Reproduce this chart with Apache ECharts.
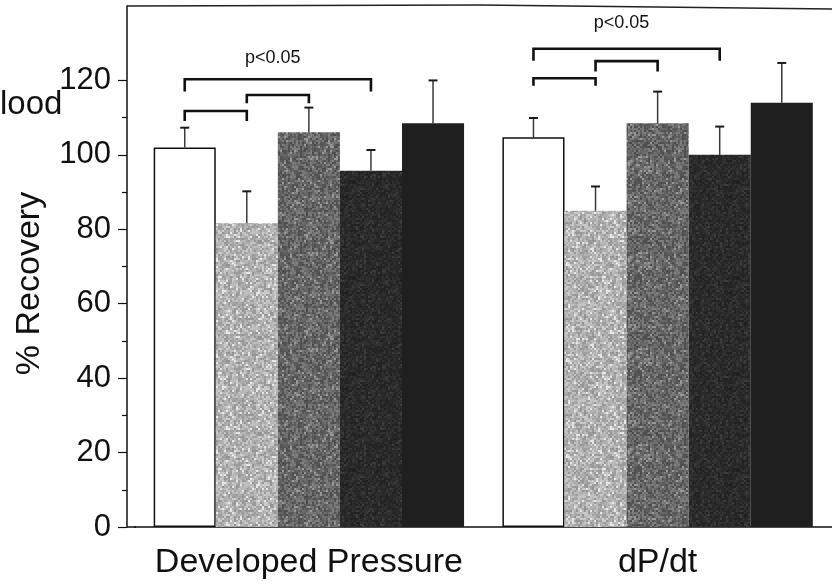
<!DOCTYPE html>
<html>
<head>
<meta charset="utf-8">
<script src="https://cdn.jsdelivr.net/npm/echarts@6/dist/echarts.min.js"></script>
<style>
  html, body { margin: 0; padding: 0; background: #fff; overflow: hidden; }
  #chart { width: 832px; height: 586px; }
</style>
</head>
<body>
<div id="chart"></div>
<script>
// ---- data ----
const categories = ['Developed Pressure', 'dP/dt'];
const seriesNames = ['Group 1', 'Group 2', 'Group 3', 'Group 4', 'Group 5'];
// mean % recovery per group, one value per category
const meanGroup1 = [102.0, 104.7];
const meanGroup2 = [81.6, 85.0];
const meanGroup3 = [106.1, 108.5];
const meanGroup4 = [95.7, 100.0];
const meanGroup5 = [108.5, 114.0];
// top of the error bar (mean + SEM)
const upperGroup1 = [107.3, 109.9];
const upperGroup2 = [90.2, 91.5];
const upperGroup3 = [112.7, 117.0];
const upperGroup4 = [101.3, 107.6];
const upperGroup5 = [120.0, 124.7];
const yTickValues = [0, 20, 40, 60, 80, 100, 120];
const yMinorTickValues = [10, 30, 50, 70, 90, 110];
// significance brackets: [category, fromGroup, toGroup, barValue, legEndValue]
const brackets = [
  [0, 0, 3, 120.3, 117.0],
  [0, 0, 1, 111.8, 109.1],
  [0, 1, 2, 116.1, 113.9],
  [1, 0, 3, 128.5, 125.3],
  [1, 0, 1, 120.6, 118.6],
  [1, 1, 2, 125.2, 122.4]
];
// significance labels: [category, fromGroup, toGroup, value]
const sigLabels = [
  [0, 0, 3, 126.0],
  [1, 0, 3, 135.4]
];
const sigText = 'p<0.05';

const means = [meanGroup1, meanGroup2, meanGroup3, meanGroup4, meanGroup5];
const uppers = [upperGroup1, upperGroup2, upperGroup3, upperGroup4, upperGroup5];

// ---- layout / style ----
const FONT = '"Liberation Sans", Arial, Helvetica, sans-serif';
const GAP = 0.11;           // barCategoryGap ratio
const N = means.length;

// stippled fill, deterministic hash noise, softened
function hash(x, y, s) {
  const v = Math.sin(x * 12.9898 + y * 78.233 + s * 37.719) * 43758.5453;
  return v - Math.floor(v);
}
function speckle(base, amp, seed) {
  const size = 96, cell = 2;
  const raw = document.createElement('canvas');
  raw.width = size; raw.height = size;
  const rctx = raw.getContext('2d');
  for (let y = 0; y < size; y += cell) {
    for (let x = 0; x < size; x += cell) {
      const h = hash(x, y, seed);
      let g = base + (h - 0.5) * 2 * amp;
      if (hash(y, x, seed + 3) > 0.92) g = base + amp * 1.8;
      g = Math.max(0, Math.min(255, Math.round(g)));
      rctx.fillStyle = 'rgb(' + g + ',' + g + ',' + g + ')';
      rctx.fillRect(x, y, cell, cell);
    }
  }
  const cv = document.createElement('canvas');
  cv.width = size; cv.height = size;
  const ctx = cv.getContext('2d');
  ctx.fillStyle = 'rgb(' + base + ',' + base + ',' + base + ')';
  ctx.fillRect(0, 0, size, size);
  ctx.filter = 'blur(0.6px)';
  ctx.drawImage(raw, 0, 0);
  return { image: cv, repeat: 'repeat' };
}

const fills = [
  '#ffffff',
  speckle(176, 30, 1),
  speckle(102, 28, 2),
  speckle(42, 10, 3),
  '#1f1f1f'
];

const barSeries = means.map((vals, i) => ({
  name: seriesNames[i],
  type: 'bar',
  data: vals,
  barGap: '0%',
  barCategoryGap: (GAP * 100) + '%',
  itemStyle: i === 0
    ? { color: fills[i], borderColor: '#111', borderWidth: 1.5 }
    : { color: fills[i] },
  silent: true,
  z: 2
}));

function barCenter(api, c, g) {
  const center = api.coord([c, 0])[0];
  const bw = api.size([1, 0])[0] * (1 - GAP) / N;
  return center + (g - (N - 1) / 2) * bw;
}

const errorData = [];
uppers.forEach((vals, g) => vals.forEach((u, c) => errorData.push([c, g, means[g][c], u])));

const errorSeries = {
  type: 'custom',
  data: errorData,
  z: 3,
  silent: true,
  renderItem(params, api) {
    const c = api.value(0), g = api.value(1);
    const x = barCenter(api, c, g);
    const yMean = api.coord([c, api.value(2)])[1];
    const yUp = api.coord([c, api.value(3)])[1];
    return {
      type: 'group',
      children: [
        { type: 'line', shape: { x1: x, y1: yMean, x2: x, y2: yUp },
          style: { stroke: '#3a3a3a', lineWidth: 1.5 } },
        { type: 'line', shape: { x1: x - 4.5, y1: yUp, x2: x + 4.5, y2: yUp },
          style: { stroke: '#1a1a1a', lineWidth: 2 } }
      ]
    };
  }
};

const bracketSeries = {
  type: 'custom',
  data: brackets,
  z: 4,
  silent: true,
  renderItem(params, api) {
    const c = api.value(0);
    const x1 = barCenter(api, c, api.value(1));
    const x2 = barCenter(api, c, api.value(2));
    const yTop = api.coord([c, api.value(3)])[1];
    const yLeg = api.coord([c, api.value(4)])[1];
    return {
      type: 'polyline',
      shape: { points: [[x1, yLeg], [x1, yTop], [x2, yTop], [x2, yLeg]] },
      style: { stroke: '#111', lineWidth: 2.6, fill: null, lineJoin: 'miter' }
    };
  }
};

const labelSeries = {
  type: 'custom',
  data: sigLabels,
  z: 4,
  silent: true,
  renderItem(params, api) {
    const c = api.value(0);
    const x = (barCenter(api, c, api.value(1)) + barCenter(api, c, api.value(2))) / 2 - 5;
    const y = api.coord([c, api.value(3)])[1];
    return {
      type: 'text',
      x: x, y: y,
      style: { text: sigText, fill: '#111', fontSize: 18, fontFamily: FONT,
               align: 'center', verticalAlign: 'middle' }
    };
  }
};

const chart = echarts.init(document.getElementById('chart'), null, { renderer: 'canvas' });
chart.setOption({
  animation: false,
  backgroundColor: '#ffffff',
  grid: { left: 134.5, right: 0, top: 6, bottom: 59, containLabel: false },
  xAxis: {
    type: 'category',
    data: categories,
    axisLine: { lineStyle: { color: '#111', width: 1.5 } },
    axisTick: { alignWithLabel: true, length: 6, lineStyle: { color: '#111', width: 1.2 } },
    axisLabel: { color: '#111', fontSize: 34, fontFamily: FONT, margin: 19, interval: 0, hideOverlap: false },
    splitLine: { show: false }
  },
  yAxis: [
    {
      type: 'value', min: 0, max: 140, interval: 20, offset: 7.5,
      name: '% Recovery', nameLocation: 'middle', nameRotate: 90, nameGap: 80,
      nameTextStyle: { color: '#111', fontSize: 34, fontFamily: FONT, padding: [0, 34, 0, 0] },
      axisLine: { show: true, lineStyle: { color: '#111', width: 1.5 } },
      axisTick: { show: true, length: 9, customValues: yTickValues, lineStyle: { color: '#111', width: 1.2 } },
      axisLabel: { color: '#111', fontSize: 31, fontFamily: FONT, margin: 16, customValues: yTickValues },
      splitLine: { show: false }
    },
    {
      type: 'value', min: 0, max: 140, interval: 20, offset: 7.5, position: 'left',
      axisLine: { show: false },
      axisTick: { show: true, length: 5, customValues: yMinorTickValues, lineStyle: { color: '#111', width: 1.2 } },
      axisLabel: { show: false },
      splitLine: { show: false }
    }
  ],
  series: barSeries.concat([errorSeries, bracketSeries, labelSeries]),
  graphic: [
    { type: 'polyline', silent: true, z: 10,
      shape: { points: [[127, 6], [480, 5], [832, 9]] },
      style: { stroke: '#222', lineWidth: 1.5, fill: null } },
    { type: 'line', silent: true, z: 10,
      shape: { x1: 127, y1: 527, x2: 136, y2: 527 },
      style: { stroke: '#111', lineWidth: 1.5 } },
    { type: 'text', silent: true, x: 0, y: 105,
      style: { text: 'lood', fill: '#111', fontSize: 33, fontFamily: FONT, verticalAlign: 'middle' } }
  ]
});
</script>
</body>
</html>
